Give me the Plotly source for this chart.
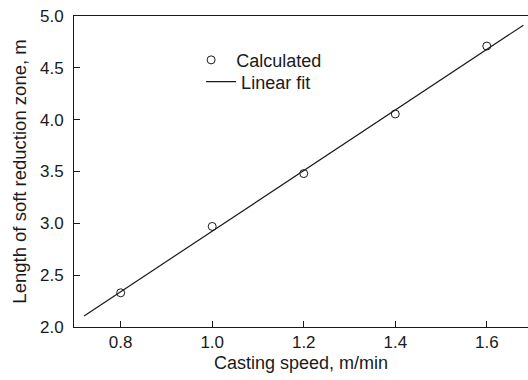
import numpy as np
import plotly.graph_objects as go

# Data
casting_speed = [0.8, 1.0, 1.2, 1.4, 1.6]
length_calc = [2.33, 2.97, 3.48, 4.055, 4.71]
fit_x_range = [0.72, 1.68]

x_ticks = [0.8, 1.0, 1.2, 1.4, 1.6]
x_tick_labels = ["0.8", "1.0", "1.2", "1.4", "1.6"]
y_ticks = [2.0, 2.5, 3.0, 3.5, 4.0, 4.5, 5.0]
y_tick_labels = ["2.0", "2.5", "3.0", "3.5", "4.0", "4.5", "5.0"]

slope, intercept = np.polyfit(casting_speed, length_calc, 1)
fit_x = np.array(fit_x_range)
fit_y = slope * fit_x + intercept

FONT = "Liberation Sans, Arial, sans-serif"
INK = "#1a1a1a"

fig = go.Figure()
fig.add_trace(go.Scatter(
    x=casting_speed, y=length_calc, mode="markers", name="Calculated",
    marker=dict(symbol="circle-open", size=8, color=INK, line=dict(width=1, color=INK)),
    legend="legend",
))
fig.add_trace(go.Scatter(
    x=fit_x, y=fit_y, mode="lines", name="Linear fit",
    line=dict(color=INK, width=1.2),
    legend="legend2",
))

legend_common = dict(
    xanchor="left", yanchor="middle",
    bgcolor="rgba(0,0,0,0)", borderwidth=0,
    font=dict(family=FONT, size=18, color=INK),
)

fig.update_layout(
    width=528, height=380,
    margin=dict(l=74, r=0, t=16, b=53),
    paper_bgcolor="white", plot_bgcolor="white",
    font=dict(family=FONT, size=17, color=INK),
    showlegend=True,
    legend=dict(x=0.247, y=0.858, itemwidth=40, **legend_common),
    legend2=dict(x=0.280, y=0.788, itemwidth=30, **legend_common),
    xaxis=dict(
        range=[0.698, 1.690],
        tickvals=x_ticks, ticktext=x_tick_labels,
        ticks="inside", ticklen=6, tickwidth=1, tickcolor=INK,
        showline=True, linecolor=INK, linewidth=1, mirror=True,
        showgrid=False, zeroline=False,
        title=dict(text="Casting speed, m/min", font=dict(size=18), standoff=4),
        tickfont=dict(size=17),
        ticklabelstandoff=0,
    ),
    yaxis=dict(
        range=[2.0, 5.0],
        tickvals=y_ticks, ticktext=y_tick_labels,
        ticks="inside", ticklen=6, tickwidth=1, tickcolor=INK,
        showline=True, linecolor=INK, linewidth=1, mirror=False,
        showgrid=False, zeroline=False,
        title=dict(text="Length of soft reduction zone, m", font=dict(size=18.5), standoff=8),
        tickfont=dict(size=17),
        ticklabelstandoff=6,
        ticklabeloverflow="allow",
    ),
)

fig.write_html(
    "out.html",
    config={"displayModeBar": False},
    post_script="document.body.style.margin='0';",
)
